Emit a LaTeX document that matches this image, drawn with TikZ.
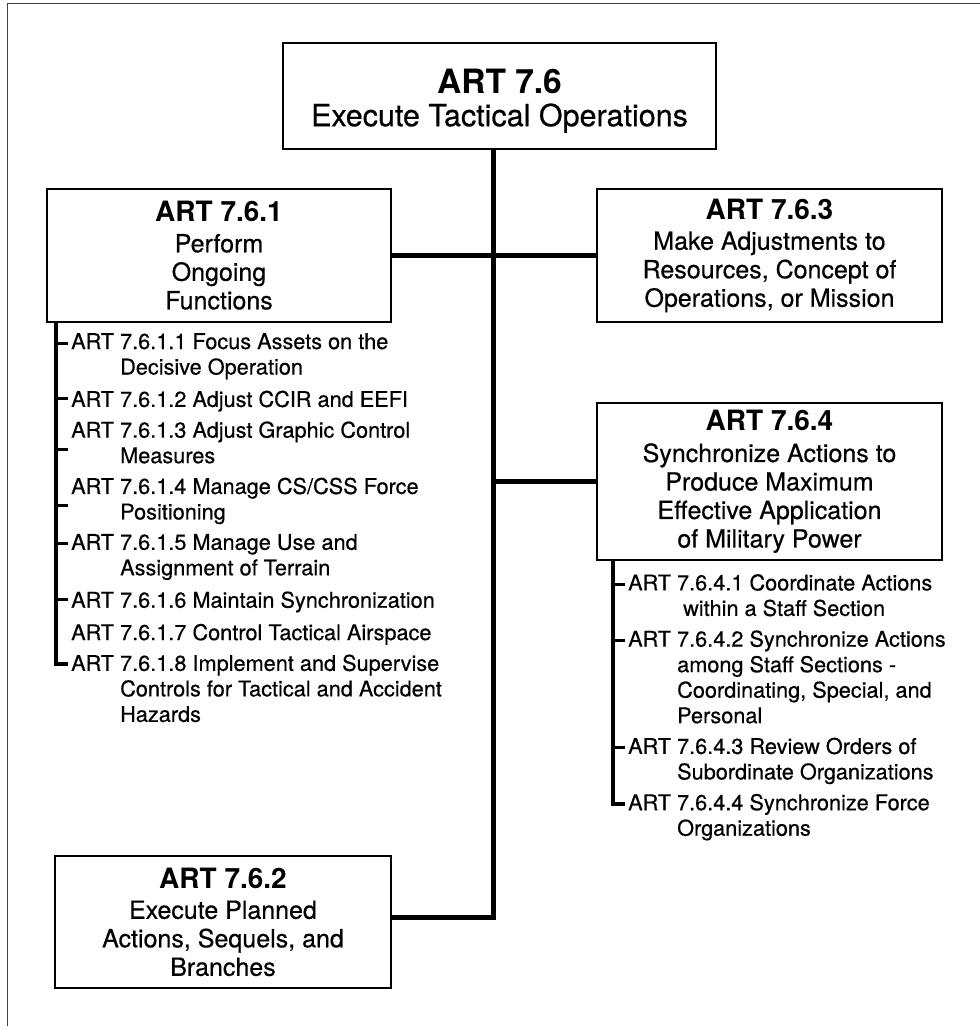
\documentclass[tikz,border=0pt]{standalone}
\usepackage{fontspec}
\setmainfont{TeX Gyre Heros}[UprightFeatures={FakeBold=0.5}]
\usetikzlibrary{positioning}

\newcommand{\ind}{\hspace*{49pt}}
\newcommand{\itemfont}{\fontsize{21.7}{25.5}\selectfont}
\newcommand{\boxfont}{\fontsize{25}{28.5}\selectfont}
\newcommand{\headfont}{\fontsize{28}{28}\selectfont\bfseries}

\begin{document}
\begin{tikzpicture}[
  x=1pt, y=-1pt,
  box/.style={rectangle, draw, line width=2pt, inner sep=0pt, align=center, font=\boxfont},
  item/.style={inner sep=0pt, align=left, font=\itemfont, execute at begin node=\strut, execute at end node=\strut},
  trunk/.style={line width=5pt},
  spine/.style={line width=4pt},
  tick/.style={line width=3pt}
]
  \useasboundingbox (0,0) rectangle (980,1026);
  \draw[line width=1pt, black!75] (7,1026) |- (980,3);

  \node[box, minimum width=433, minimum height=106, font=\fontsize{30.5}{33}\selectfont] (top) at (499.5,96)
    {\rule{0pt}{34pt}{\fontsize{33.5}{33}\selectfont\bfseries ART 7.6}\\ Execute Tactical Operations};
  \node[box, minimum width=344, minimum height=133] (fun) at (219,255.5)
    {{\headfont ART 7.6.1}\\[2pt] Perform\\ Ongoing\\ Functions};
  \node[box, minimum width=345, minimum height=133] (adj) at (769.5,255.5)
    {{\headfont ART 7.6.3}\\[2pt] Make Adjustments to\\ Resources, Concept of\\ Operations, or Mission};
  \node[box, minimum width=345, minimum height=157] (syn) at (769.5,481.5)
    {{\headfont ART 7.6.4}\\[3pt] Synchronize Actions to\\ Produce Maximum\\ Effective Application\\ of Military Power};
  \node[box, minimum width=336, minimum height=132] (plan) at (223,922)
    {{\headfont ART 7.6.2}\\[2pt] Execute Planned\\ Actions, Sequels, and\\ Branches};

  \node[item, below=10pt of fun.south west, xshift=25pt, anchor=north west] (f1)
    {ART 7.6.1.1 Focus Assets on the\\ \ind Decisive Operation};
  \node[item, below=6.5pt of f1.south west, anchor=north west] (f2) {ART 7.6.1.2 Adjust CCIR and EEFI};
  \node[item, below=6.5pt of f2.south west, anchor=north west] (f3)
    {ART 7.6.1.3 Adjust Graphic Control\\ \ind Measures};
  \node[item, below=6.5pt of f3.south west, anchor=north west] (f4)
    {ART 7.6.1.4 Manage CS/CSS Force\\ \ind Positioning};
  \node[item, below=6.5pt of f4.south west, anchor=north west] (f5)
    {ART 7.6.1.5 Manage Use and\\ \ind Assignment of Terrain};
  \node[item, below=6.5pt of f5.south west, anchor=north west] (f6) {ART 7.6.1.6 Maintain Synchronization};
  \node[item, below=6.5pt of f6.south west, anchor=north west] (f7) {ART 7.6.1.7 Control Tactical Airspace};
  \node[item, below=6.5pt of f7.south west, anchor=north west] (f8)
    {ART 7.6.1.8 Implement and Supervise\\ \ind Controls for Tactical and Accident\\ \ind Hazards};

  \node[item, below=13pt of syn.south west, xshift=32pt, anchor=north west] (s1)
    {ART 7.6.4.1 Coordinate Actions\\ \hspace*{55pt}within a Staff Section};
  \node[item, below=6.5pt of s1.south west, anchor=north west] (s2)
    {ART 7.6.4.2 Synchronize Actions\\ \ind among Staff Sections -\\ \ind Coordinating, Special, and\\ \ind Personal};
  \node[item, below=6.5pt of s2.south west, anchor=north west] (s3)
    {ART 7.6.4.3 Review Orders of\\ \ind Subordinate Organizations};
  \node[item, below=6.5pt of s3.south west, anchor=north west] (s4)
    {ART 7.6.4.4 Synchronize Force\\ \ind Organizations};

  \draw[trunk] ([xshift=-6.5pt]top.south) |- ([yshift=5pt]plan.east);
  \draw[trunk] (fun.east) -- (adj.west);
  \draw[trunk] ([xshift=-6.5pt]top.south |- syn.west) -- (syn.west);

  \draw[spine] ([xshift=10pt]fun.south west) |- ([xshift=-3pt,yshift=-10pt]f8.north west);
  \draw[spine] ([xshift=17pt]syn.south west) |- ([xshift=-3pt,yshift=-10pt]s4.north west);
  \foreach \n in {f1,f2,f5,f6,s1,s2,s3}
    \draw[tick] ([xshift=-3pt,yshift=-10pt]\n.north west) -- ++(-12pt,0);
  \foreach \n in {f3,f4}
    \draw[tick] ([xshift=-3pt,yshift=-28pt]\n.north west) -- ++(-12pt,0);
\end{tikzpicture}
\end{document}
